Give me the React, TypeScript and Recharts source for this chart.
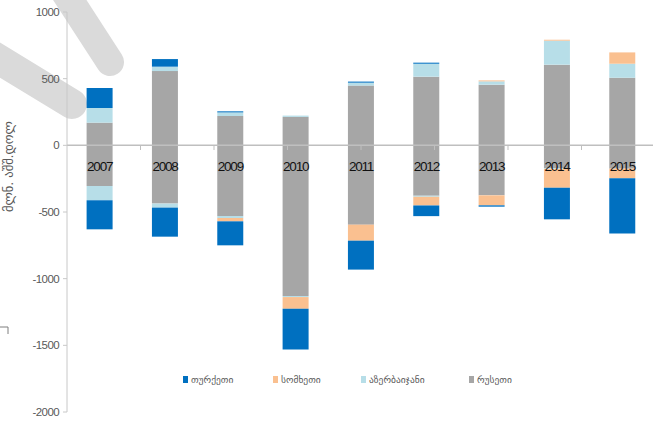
import React from 'react';
import { BarChart, Bar, XAxis, YAxis, ReferenceLine, ReferenceDot, Legend } from 'recharts';

const categories = ['2007', '2008', '2009', '2010', '2011', '2012', '2013', '2014', '2015'];
// positive parts
const russiaPos = [170, 557, 220, 213, 448, 515, 455, 605, 507];
const azerPos = [110, 33, 27, 10, 22, 97, 25, 180, 105];
const armPos = [0, 0, 0, 0, 0, 0, 7, 7, 85];
const turkPos = [150, 57, 8, 0, 8, 8, 0, 0, 0];
// negative parts
const russiaNeg = [-305, -437, -530, -1130, -595, -378, -375, -172, -175];
const azerNeg = [-107, -30, -15, -8, 0, -8, 0, -5, 0];
const armNeg = [0, 0, -25, -88, -120, -65, -75, -141, -72];
const turkNeg = [-218, -218, -180, -306, -217, -80, -10, -237, -415];

const yTicks = [1000, 500, 0, -500, -1000, -1500, -2000];
const yAxisTitle = 'მლნ. აშშ.დოლ';

const legendItems = [
  { key: 'turkey', name: 'თურქეთი', color: '#0070C0', width: 90 },
  { key: 'armenia', name: 'სომხეთი', color: '#FAC090', width: 88 },
  { key: 'azerbaijan', name: 'აზერბაიჯანი', color: '#B7DEE8', width: 108 },
  { key: 'russia', name: 'რუსეთი', color: '#A6A6A6', width: 80 },
];
const COLORS: Record<string, string> = {
  turkey: '#0070C0',
  armenia: '#FAC090',
  azerbaijan: '#B7DEE8',
  russia: '#A6A6A6',
};

const data = categories.map((year, i) => ({
  year,
  russiaPos: russiaPos[i],
  azerPos: azerPos[i],
  armPos: armPos[i],
  turkPos: turkPos[i],
  russiaNeg: russiaNeg[i],
  azerNeg: azerNeg[i],
  armNeg: armNeg[i],
  turkNeg: turkNeg[i],
}));

const SANS = '"Liberation Sans", Arial, sans-serif';
const GEO = '"DejaVu Sans", sans-serif';

const renderLegend = () => (
  <div style={{ display: 'flex', alignItems: 'center', fontFamily: GEO, fontSize: 9.5, color: '#595959', whiteSpace: 'nowrap' }}>
    {legendItems.map((it) => (
      <div key={it.key} style={{ display: 'flex', alignItems: 'center', width: it.width }}>
        <span style={{ display: 'inline-block', width: 5, height: 7, background: it.color, marginRight: 3 }} />
        <span>{it.name}</span>
      </div>
    ))}
  </div>
);

const renderYear = (year: string) => (p: any) => (
  <text x={p.cx} y={p.cy + 26} textAnchor="middle" fill="#111" fontSize={13.5} letterSpacing={-1.2} fontFamily={SANS}>
    {year}
  </text>
);

export default function App() {
  return (
    <div style={{ position: 'absolute', left: 0, top: 0, width: 653, height: 423, overflow: 'hidden', background: '#fff' }}>
      <svg width={653} height={423} style={{ position: 'absolute', left: 0, top: 0 }}>
        <line x1={62} y1={-12} x2={110} y2={62} stroke="#dadada" strokeWidth={28} strokeLinecap="round" />
        <line x1={-20} y1={48} x2={72} y2={104} stroke="#dadada" strokeWidth={30} strokeLinecap="round" />
        <path d="M0 327 H8 V334" stroke="#7f7f7f" strokeWidth={1} fill="none" />
      </svg>
      <BarChart
        width={655}
        height={423}
        data={data}
        stackOffset="sign"
        barCategoryGap="30%"
        margin={{ top: 12, right: 0, bottom: 11, left: 1 }}
      >
        <XAxis dataKey="year" hide />
        <XAxis xAxisId="grid" type="number" domain={[0, 9]} allowDataOverflow hide />
        <YAxis
          domain={[-2000, 1000]}
          ticks={yTicks}
          interval={0}
          allowDataOverflow
          width={66}
          tickSize={4}
          tickMargin={4}
          axisLine={{ stroke: '#c8c8c8' }}
          tickLine={{ stroke: '#c8c8c8' }}
          tick={{ fill: '#595959', fontSize: 11.5, letterSpacing: -0.6, fontFamily: SANS }}
          label={{ value: yAxisTitle, angle: -90, position: 'insideLeft', offset: 8, fill: '#595959', fontSize: 12.5, fontFamily: GEO }}
        />
        <Bar dataKey="russiaPos" stackId="s" fill={COLORS.russia} isAnimationActive={false} />
        <Bar dataKey="azerPos" stackId="s" fill={COLORS.azerbaijan} isAnimationActive={false} />
        <Bar dataKey="armPos" stackId="s" fill={COLORS.armenia} isAnimationActive={false} />
        <Bar dataKey="turkPos" stackId="s" fill={COLORS.turkey} isAnimationActive={false} />
        <Bar dataKey="russiaNeg" stackId="s" fill={COLORS.russia} isAnimationActive={false} />
        <Bar dataKey="azerNeg" stackId="s" fill={COLORS.azerbaijan} isAnimationActive={false} />
        <Bar dataKey="armNeg" stackId="s" fill={COLORS.armenia} isAnimationActive={false} />
        <Bar dataKey="turkNeg" stackId="s" fill={COLORS.turkey} isAnimationActive={false} />
        <ReferenceLine y={0} stroke="#bfbfbf" strokeWidth={1.5} />
        {categories.slice(1).map((_, i) => (
          <ReferenceLine
            key={'t' + i}
            xAxisId="grid"
            segment={[{ x: i + 1, y: 0 }, { x: i + 1, y: -35 }]}
            stroke="#bfbfbf"
          />
        ))}
        {categories.map((c) => (
          <ReferenceDot key={c} x={c} y={0} r={1} shape={renderYear(c)} />
        ))}
        <Legend
          verticalAlign="middle"
          align="center"
          layout="horizontal"
          wrapperStyle={{ top: 374, left: 183, width: 'auto' }}
          content={renderLegend}
        />
      </BarChart>
    </div>
  );
}
